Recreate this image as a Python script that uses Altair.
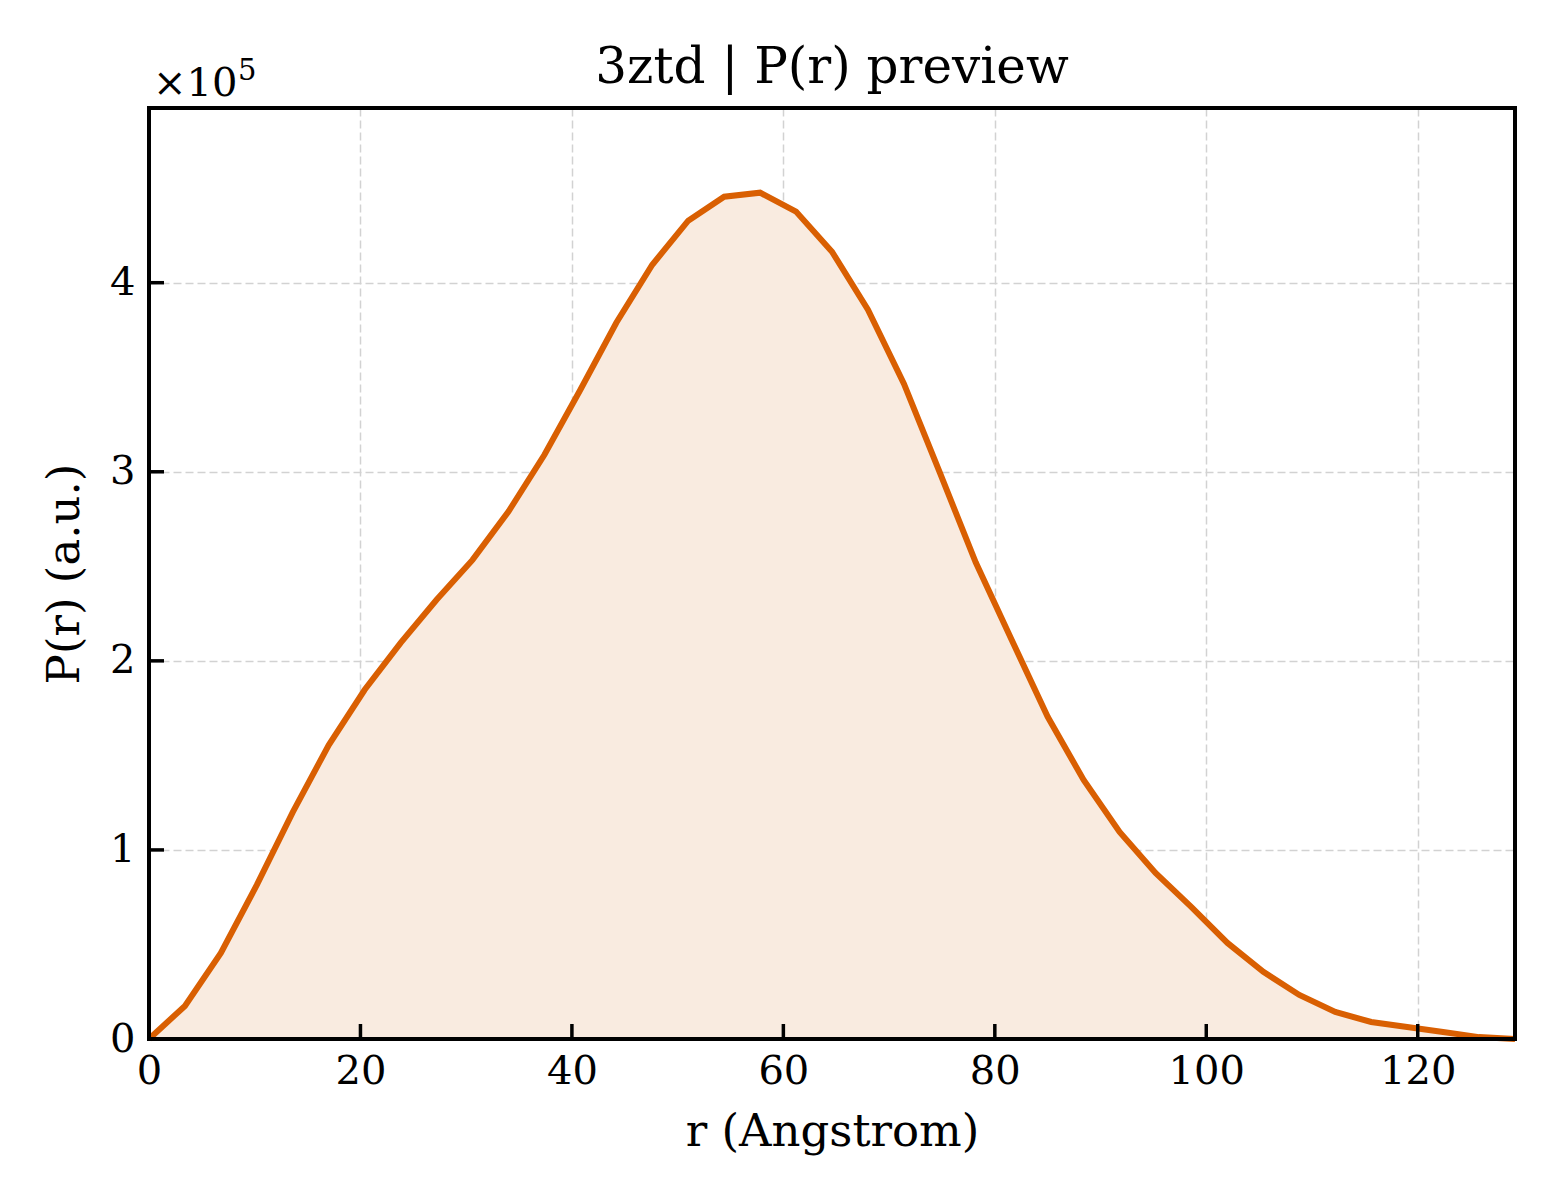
import altair as alt
import pandas as pd

FONT = "DejaVu Serif"

# r in Angstrom, P(r) in a.u.
r_vals = [0.0, 3.4, 6.8, 10.2, 13.6, 17.0, 20.4, 23.8, 27.2, 30.6,
          34.0, 37.4, 40.8, 44.2, 47.6, 51.0, 54.4, 57.8, 61.2, 64.6,
          68.0, 71.4, 74.8, 78.2, 81.6, 85.0, 88.4, 91.8, 95.2, 98.6,
          102.0, 105.4, 108.8, 112.2, 115.6, 119.0, 122.4, 125.8, 129.2]
pr_vals = [0, 17500, 45500, 81500, 120000, 155500, 184700, 209500, 232300, 253400,
           279000, 309000, 343400, 378800, 409500, 432800, 445500, 447600, 437600, 416400,
           385700, 346600, 299500, 252000, 211000, 170400, 137000, 109500, 87800, 69800,
           50800, 35500, 23300, 14300, 9000, 6300, 3700, 1000, 0]

x_ticks = [0, 20, 40, 60, 80, 100, 120]
y_ticks = [0, 100000, 200000, 300000, 400000]

X_MAX = 129.2
Y_MAX = 492400
W, H = 1366, 931

df = pd.DataFrame({"r": r_vals, "pr": pr_vals})

x_enc = alt.X("r:Q", scale=alt.Scale(domain=[0, X_MAX], nice=False, zero=False),
              axis=alt.Axis(values=x_ticks, title="r (Angstrom)", format="d",
                            grid=True, ticks=False, domain=False, labelFlush=False,
                            labelPadding=12, titlePadding=18))
y_enc = alt.Y("pr:Q", scale=alt.Scale(domain=[0, Y_MAX], nice=False),
              axis=alt.Axis(values=y_ticks, title="P(r) (a.u.)",
                            labelExpr="datum.value / 100000", labelFlush=False,
                            grid=True, ticks=False, domain=False,
                            labelPadding=14, titlePadding=22))

area = alt.Chart(df).mark_area(color="#f9ebe0", opacity=1).encode(x=x_enc, y=y_enc)
line = alt.Chart(df).mark_line(color="#d95f02", strokeWidth=6,
                               strokeJoin="miter").encode(x="r:Q", y="pr:Q")

# inward ticks (matplotlib style)
xt = alt.Chart(pd.DataFrame({"t": x_ticks})).mark_rule(
    color="black", strokeWidth=3.5).encode(x="t:Q", y=alt.value(H), y2=alt.value(H - 15))
yt = alt.Chart(pd.DataFrame({"t": y_ticks})).mark_rule(
    color="black", strokeWidth=3.5).encode(y="t:Q", x=alt.value(0), x2=alt.value(15))

# solid frame drawn over the grid
frame = alt.Chart(df.head(1)).mark_rect(
    fill=None, stroke="black", strokeWidth=4).encode(
    x=alt.value(0), x2=alt.value(W), y=alt.value(0), y2=alt.value(H))

# title and offset text "×10^5"
title = alt.Chart(df.head(1)).mark_text(
    text="3ztd | P(r) preview", font=FONT, fontSize=50, align="center",
    baseline="alphabetic", color="black").encode(x=alt.value(W / 2), y=alt.value(-25))
off1 = alt.Chart(df.head(1)).mark_text(
    text="×10", font=FONT, fontSize=40, align="left", baseline="alphabetic",
    color="black").encode(x=alt.value(4), y=alt.value(-12))
off2 = alt.Chart(df.head(1)).mark_text(
    text="5", font=FONT, fontSize=29, align="left", baseline="alphabetic",
    color="black").encode(x=alt.value(89), y=alt.value(-28))

chart = (
    alt.layer(area, line, xt, yt, frame, title, off1, off2)
    .properties(
        width=W, height=H,
        autosize=alt.AutoSizeParams(type="none"),
        padding={"left": 141, "top": 100, "right": 37, "bottom": 153},
        background="white",
    )
    .configure_view(strokeWidth=0)
    .configure_axis(labelFont=FONT, titleFont=FONT, labelFontSize=40,
                    titleFontSize=45, titleFontWeight="normal",
                    labelColor="black", titleColor="black",
                    gridColor="#d2d2d2", gridDash=[8, 4], gridWidth=1.5)
)

chart.save("out.html", embed_options={"renderer": "svg", "actions": False})
